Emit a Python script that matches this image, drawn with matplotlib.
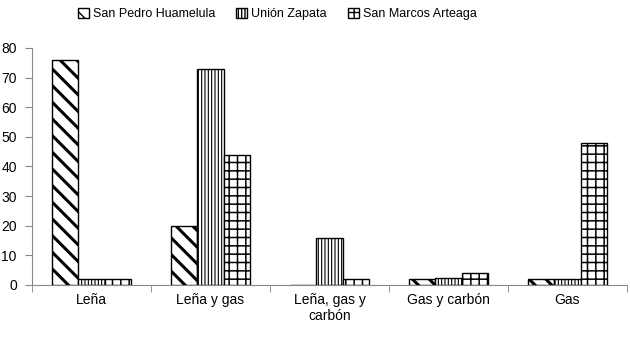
import matplotlib as mpl
import matplotlib.pyplot as plt
import numpy as np

mpl.rcParams['font.family'] = ['Liberation Sans', 'DejaVu Sans']

# data
categories = ['Leña', 'Leña y gas', 'Leña, gas y\ncarbón', 'Gas y carbón', 'Gas']
series = ['San Pedro Huamelula', 'Unión Zapata', 'San Marcos Arteaga']
san_pedro = [76, 20, 0, 2, 2]
union_zapata = [2, 73, 16, 2.5, 2]
san_marcos = [2, 44, 2, 4, 48]
hatches = ['\\\\', '|||||', '++']
hatch_lw = [2.2, 0.8, 1.1]

fig = plt.figure(figsize=(6.3, 3.38), dpi=100)
ax = fig.add_axes([0.051, 0.157, 0.944, 0.701])

x = np.arange(len(categories))
w = 0.222
for i, (vals, name, h) in enumerate(zip([san_pedro, union_zapata, san_marcos], series, hatches)):
    with mpl.rc_context({'hatch.linewidth': hatch_lw[i]}):
        bars = ax.bar(x + (i - 1) * w, vals, w, facecolor='white', edgecolor='black',
                      hatch=h, linewidth=1.0, label=name)
        for b in bars:
            if hasattr(b, 'set_hatch_linewidth'):
                b.set_hatch_linewidth(hatch_lw[i])

# axes styling
ax.set_xlim(-0.5, len(categories) - 0.5)
ax.set_ylim(0, 80)
ax.set_yticks(np.arange(0, 81, 10))
ax.spines[['top', 'right']].set_visible(False)
ax.spines[['left', 'bottom']].set_color('#888888')
ax.set_xticks(x)
ax.set_xticklabels(categories, fontsize=10)
ax.set_xticks(np.arange(-0.5, len(categories), 1), minor=True)
ax.tick_params(axis='x', which='major', length=0, pad=6)
ax.tick_params(axis='x', which='minor', length=5, color='#888888')
ax.tick_params(axis='y', length=5, color='#888888', labelsize=10, pad=6)

leg = fig.legend(loc='upper center', bbox_to_anchor=(0.44, 1.01), ncol=3, frameon=False,
                 fontsize=9, handlelength=0.9, handleheight=0.9, handletextpad=0.3,
                 columnspacing=1.7)

plt.savefig('out.png', dpi=100)
